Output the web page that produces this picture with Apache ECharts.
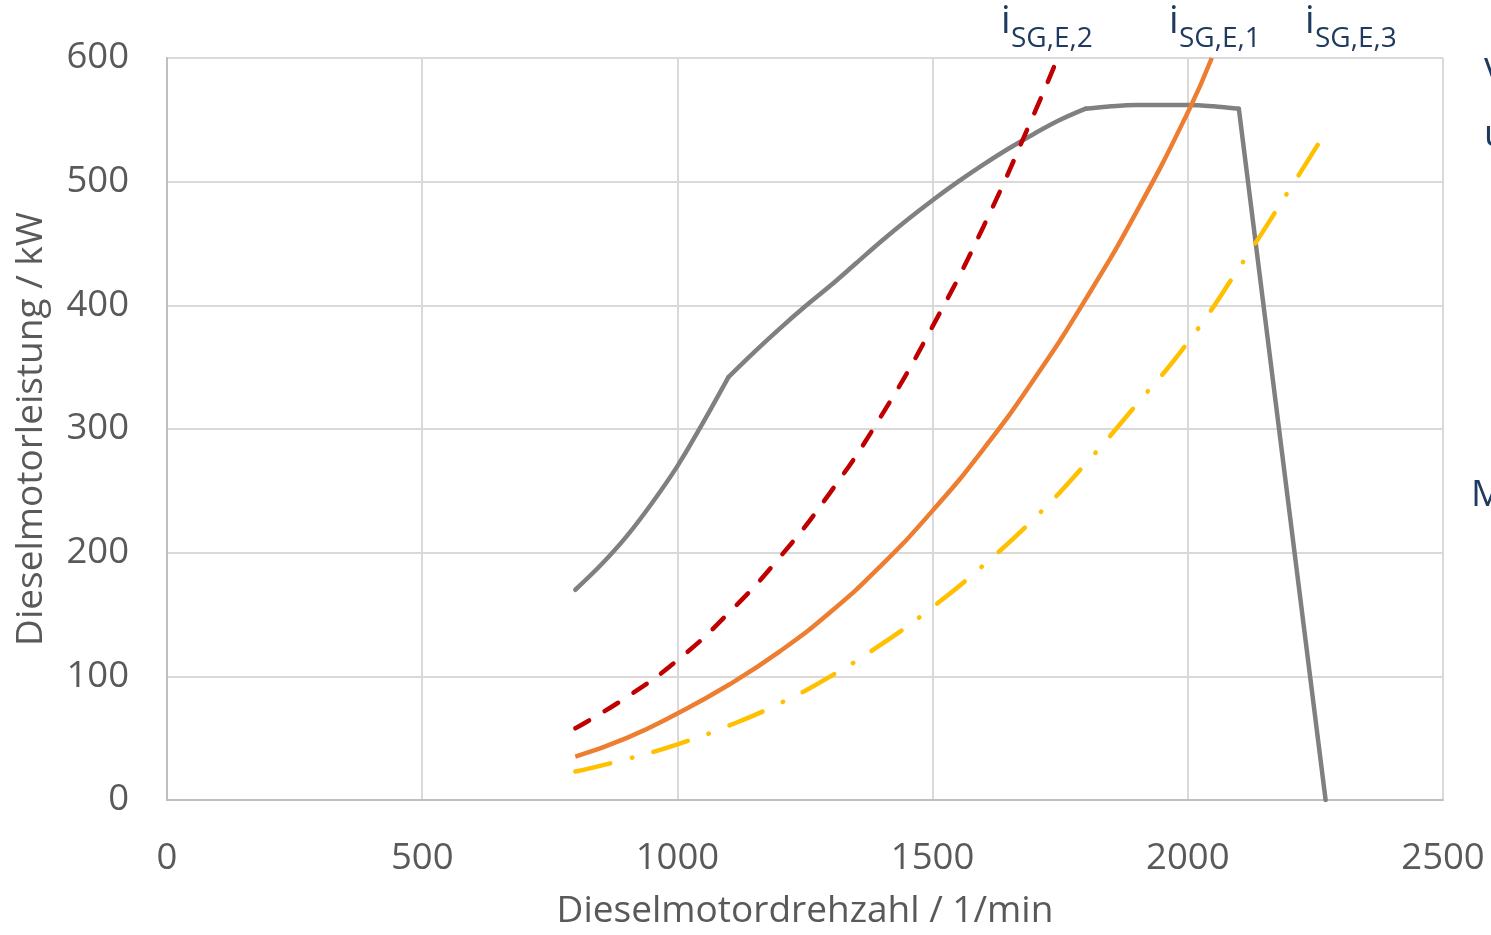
<!DOCTYPE html>
<html><head><meta charset="utf-8">
<script src="https://cdn.jsdelivr.net/npm/echarts@6/dist/echarts.min.js"></script>
<style>html,body{margin:0;padding:0;background:#fff}#c{width:1491px;height:935px}</style>
</head><body><div id="c"></div>
<script>
// Volllastkennlinie (grau)
const fullLoadN = [800, 850, 900, 950, 1000, 1050, 1100, 1150, 1200, 1250, 1300, 1350, 1400, 1450, 1500, 1550, 1600, 1650, 1700, 1750, 1800, 1850, 1900, 1950, 2000, 2050, 2100, 2270];
const fullLoadP = [170, 190, 213, 240, 270, 305, 342, 362, 381, 399, 416, 434, 452, 469, 485, 500, 514, 527, 539, 550, 559, 561, 562, 562, 562, 561, 559, 0];
// Knickpunkte der Volllastkennlinie (1/min)
const fullLoadKinks = [1100, 1800, 2100];
// i_SG,E,2 (rot gestrichelt)
const ratio2N = [800, 900, 1000, 1100, 1200, 1300, 1400, 1500, 1600, 1700, 1745];
const ratio2P = [58, 83, 113, 151, 196, 249, 311, 383, 464, 556, 600];
// i_SG,E,1 (orange)
const ratio1N = [800, 900, 1000, 1100, 1200, 1300, 1400, 1500, 1600, 1700, 1800, 1900, 2000, 2047];
const ratio1P = [35, 50, 70, 93, 120, 152, 190, 234, 284, 341, 405, 476, 556, 600];
// i_SG,E,3 (gelb strichpunktiert)
const ratio3N = [800, 900, 1000, 1100, 1200, 1300, 1400, 1500, 1600, 1700, 1800, 1900, 2000, 2100, 2200, 2270];
const ratio3P = [23, 33, 45, 60, 78, 100, 126, 156, 190, 228, 272, 320, 370, 430, 494, 540];

const xTicks = [0, 500, 1000, 1500, 2000, 2500];
const yTicks = [0, 100, 200, 300, 400, 500, 600];
const curveLabels = [
  {sub: 'SG,E,2', x: 1001},
  {sub: 'SG,E,1', x: 1169},
  {sub: 'SG,E,3', x: 1305}
];

const pairs = (a, b) => a.map((v, i) => [v, b[i]]);
const FONT = '"Open Sans", "Noto Sans", sans-serif';
const TXT = '#595959';
const NAVY = '#1F3A60';

// split full-load curve at its kinks so each piece is smoothed on its own
const fullPts = pairs(fullLoadN, fullLoadP);
const segments = [];
let start = 0;
fullLoadKinks.concat([fullLoadN[fullLoadN.length - 1]]).forEach(k => {
  const end = fullLoadN.indexOf(k);
  segments.push(fullPts.slice(start, end + 1));
  start = end;
});

const chart = echarts.init(document.getElementById('c'), null, {renderer: 'canvas'});

const graphics = [];
curveLabels.forEach(l => {
  graphics.push({type: 'text', left: l.x, top: 3,
    style: {text: 'i', font: '38px ' + FONT, fill: NAVY}});
  graphics.push({type: 'text', left: l.x + 10, top: 25,
    style: {text: l.sub, font: '28px ' + FONT, fill: NAVY}});
});
graphics.push({type: 'text', left: 1484, top: 55, style: {text: 'Volllast', font: '37px ' + FONT, fill: NAVY}});
graphics.push({type: 'text', left: 1484, top: 117, style: {text: 'und Teillast', font: '37px ' + FONT, fill: NAVY}});
graphics.push({type: 'text', left: 1471, top: 477, style: {text: 'Motorkennlinie', font: '37px ' + FONT, fill: NAVY}});

const fullSeries = segments.map((seg, i) => ({
  type: 'line', name: 'Volllast', data: seg, smooth: i < segments.length - 1 ? 0.35 : false,
  showSymbol: false, lineStyle: {color: '#808080', width: 4.5, join: 'round', cap: 'round'}, z: 2
}));

chart.setOption({
  animation: false,
  backgroundColor: '#fff',
  grid: {left: 167, top: 58, width: 1276, height: 744, containLabel: false},
  xAxis: {
    type: 'value', min: xTicks[0], max: xTicks[xTicks.length - 1], interval: 500,
    name: 'Dieselmotordrehzahl / 1/min', nameLocation: 'middle', nameGap: 93,
    nameTextStyle: {fontFamily: FONT, fontSize: 37, color: TXT},
    axisLine: {show: true, lineStyle: {color: '#BFBFBF', width: 2}},
    axisTick: {show: false},
    axisLabel: {fontFamily: FONT, fontSize: 36.5, color: TXT, margin: 40, formatter: v => String(v)},
    splitLine: {show: true, lineStyle: {color: '#D9D9D9', width: 2}}
  },
  yAxis: {
    type: 'value', min: yTicks[0], max: yTicks[yTicks.length - 1], interval: 100,
    name: 'Dieselmotorleistung / kW', nameLocation: 'middle', nameGap: 117,
    nameTextStyle: {fontFamily: FONT, fontSize: 37, color: TXT},
    axisLine: {show: true, lineStyle: {color: '#BFBFBF', width: 2}},
    axisTick: {show: false},
    axisLabel: {fontFamily: FONT, fontSize: 36.5, color: TXT, margin: 38, formatter: v => String(v)},
    splitLine: {show: true, lineStyle: {color: '#D9D9D9', width: 2}}
  },
  graphic: graphics,
  series: fullSeries.concat([
    {type: 'line', name: 'i_SG,E,2', data: pairs(ratio2N, ratio2P), smooth: true, showSymbol: false,
      lineStyle: {color: '#C00000', width: 4.5, type: [16, 18], cap: 'round'}, z: 3},
    {type: 'line', name: 'i_SG,E,1', data: pairs(ratio1N, ratio1P), smooth: true, showSymbol: false,
      lineStyle: {color: '#ED7D31', width: 4.5}, z: 4},
    {type: 'line', name: 'i_SG,E,3', data: pairs(ratio3N, ratio3P), smooth: true, showSymbol: false,
      lineStyle: {color: '#FFC000', width: 4.5, type: [36, 22, 0.5, 22], cap: 'round'}, z: 5}
  ])
});
</script></body></html>
